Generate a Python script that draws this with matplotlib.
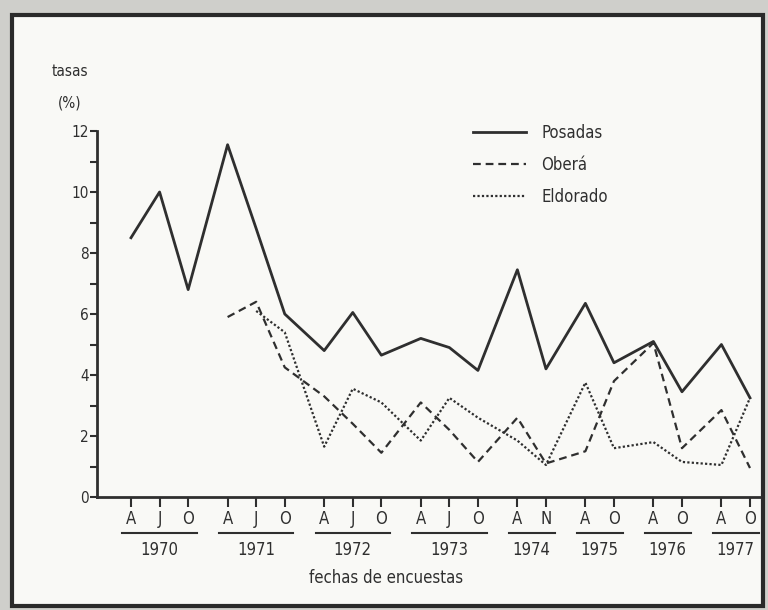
import matplotlib
matplotlib.use('Agg')
import matplotlib.pyplot as plt
import matplotlib.transforms as mtransforms
from matplotlib.patches import Rectangle
import numpy as np

# Datos: tasas (%) por fecha de encuesta
years = ['1970', '1971', '1972', '1973', '1974', '1975', '1976', '1977']
meses = [['A', 'J', 'O'], ['A', 'J', 'O'], ['A', 'J', 'O'], ['A', 'J', 'O'],
         ['A', 'N'], ['A', 'O'], ['A', 'O'], ['A', 'O']]

nan = np.nan
posadas = [8.5, 10.0, 6.8, 11.55, 8.8, 6.0, 4.8, 6.05, 4.65, 5.2, 4.9, 4.15,
           7.45, 4.2, 6.35, 4.4, 5.1, 3.45, 5.0, 3.25]
obera = [nan, nan, nan, 5.9, 6.4, 4.25, 3.3, 2.4, 1.45, 3.1, 2.2, 1.15,
         2.6, 1.1, 1.5, 3.8, 5.05, 1.6, 2.85, 0.95]
eldorado = [nan, nan, nan, nan, 6.1, 5.4, 1.65, 3.55, 3.1, 1.85, 3.25, 2.6,
            1.85, 1.05, 3.75, 1.6, 1.8, 1.15, 1.05, 3.25]

# posiciones en el eje x: paso 1 dentro del año, hueco entre años
gap = 1.38
xs, groups = [], []
x = 0.0
for g in meses:
    first = x
    for m in g:
        xs.append(x)
        x += 1
    groups.append((first, x - 1))
    x += gap - 1
labels = [m for g in meses for m in g]

ink = '#2f2f2f'
fig = plt.figure(figsize=(7.68, 6.10), dpi=100, facecolor='#cfcfcb')

# hoja escaneada con borde
fig.patches.append(Rectangle((12 / 768, 1 - 606 / 610), 751 / 768, 591 / 610,
                             transform=fig.transFigure, facecolor='#f9f9f6',
                             edgecolor='#2a2a2a', linewidth=3, zorder=-5))

ax = fig.add_axes([97 / 768, 1 - 497 / 610, 663 / 768, 366 / 610])
ax.set_zorder(2)
ax.patch.set_alpha(0)

ax.plot(xs, posadas, '-', color=ink, linewidth=2.0, label='Posadas')
ax.plot(xs, obera, color=ink, linewidth=1.6, linestyle=(0, (3.5, 2.2)), label='Oberá')
ax.plot(xs, eldorado, color=ink, linewidth=1.6, linestyle=(0, (1, 1)), label='Eldorado')

ax.set_xlim(-1.19, xs[-1] + 0.35)
ax.set_ylim(0, 12)

for s in ['top', 'right']:
    ax.spines[s].set_visible(False)
for s in ['left', 'bottom']:
    ax.spines[s].set_linewidth(2.0)
    ax.spines[s].set_color(ink)

font = dict(family='DejaVu Sans', stretch='condensed')

ax.set_yticks(range(0, 13, 2))
ax.set_yticks(range(1, 12, 2), minor=True)
ax.set_yticklabels([str(v) for v in range(0, 13, 2)], fontsize=11, color=ink, **font)
ax.tick_params(axis='y', which='both', direction='out', length=5, width=1.5, color=ink, pad=1)

ax.set_xticks(xs)
ax.set_xticklabels(labels, fontsize=12, color=ink, **font)
ax.tick_params(axis='x', direction='out', length=7, width=1.5, color=ink, pad=2)

trans = mtransforms.blended_transform_factory(ax.transData, ax.transAxes)
for (a, b), yr in zip(groups, years):
    ax.plot([a - 0.3, b + 0.3], [-0.098, -0.098], color=ink, linewidth=1.5,
            transform=trans, clip_on=False)
    ax.text((a + b) / 2, -0.145, yr, transform=trans, ha='center', va='center',
            fontsize=12, color=ink, **font)

fig.text(386 / 768, 1 - 578 / 610, 'fechas de encuestas', ha='center', va='center',
         fontsize=12, color=ink, **font)
fig.text(70 / 768, 1 - 72 / 610, 'tasas', ha='center', va='center',
         fontsize=11, color=ink, **font)
fig.text(70 / 768, 1 - 103 / 610, '(%)', ha='center', va='center',
         fontsize=11, color=ink, **font)

leg = ax.legend(loc='upper left', bbox_to_anchor=(473 / 768, 1 - 124 / 610),
                bbox_transform=fig.transFigure, frameon=False, borderpad=0,
                borderaxespad=0, handlelength=3.2, handletextpad=0.9,
                labelspacing=0.85, prop=dict(size=12, **font))
for t in leg.get_texts():
    t.set_color(ink)

fig.savefig('out.png', dpi=100, facecolor=fig.get_facecolor())
